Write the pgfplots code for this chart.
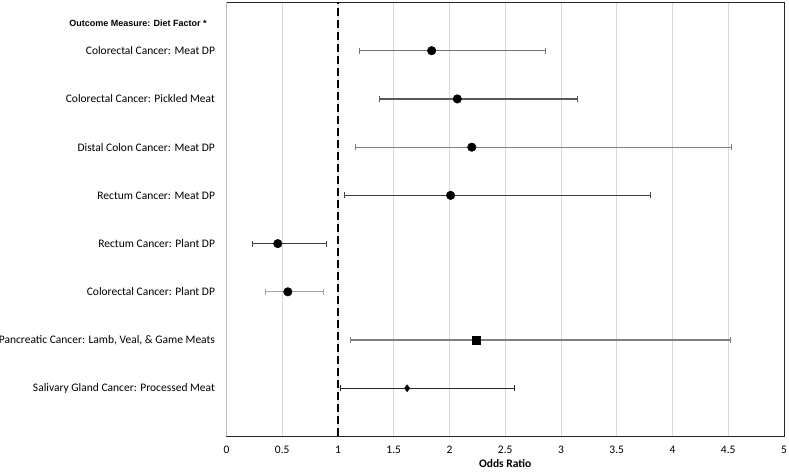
\documentclass[border=0pt]{standalone}
\usepackage{pgfplots}
\pgfplotsset{compat=1.18}
\usepackage{fontspec}
\setmainfont{Carlito}
\newfontfamily\arialf{Liberation Sans}
\usetikzlibrary{calc}
\definecolor{gridc}{RGB}{217,217,217}
\begin{document}
\fontsize{11.5pt}{13pt}\selectfont
\begin{tikzpicture}
\begin{axis}[
  scale only axis,
  width=557.5pt, height=434pt,
  xmin=0, xmax=5, ymin=0, ymax=9,
  xtick={0,0.5,...,5},
  ytick={1,2,3,4,5,6,7,8},
  yticklabels={Salivary Gland Cancer: Processed Meat, {Pancreatic Cancer: Lamb, Veal, \& Game Meats}, Colorectal Cancer: Plant DP, Rectum Cancer: Plant DP, Rectum Cancer: Meat DP, Distal Colon Cancer: Meat DP, Colorectal Cancer: Pickled Meat, Colorectal Cancer: Meat DP},
  major tick length=0pt,
  xmajorgrids, grid style={gridc, line width=0.8pt},
  axis line style={black!85, line width=1pt},
  /pgf/number format/assume math mode=true,
  tick label style={font=\fontsize{11.5pt}{13pt}\selectfont},
  yticklabel style={xshift=-7.5pt},
  xticklabel style={yshift=-6pt},
  xlabel={\textbf{Odds Ratio}},
  xlabel style={font=\fontsize{11.5pt}{13pt}\selectfont, yshift=2.5pt},
  clip=false,
  error bars/x dir=both, error bars/x explicit,
  error bars/error mark options={rotate=90, mark size=3pt, line width=0.9pt},
]
\draw[gridc!70!gray, line width=1.5pt] (rel axis cs:0,0) -- (rel axis cs:0,1);
\draw[black, line width=1.5pt, dash pattern=on 8pt off 4pt] (axis cs:1,0) -- (axis cs:1,9);

\addplot[only marks, mark=*, mark size=4.3pt, black, error bars/error bar style={color=black!55, line width=1.2pt}]
  coordinates {(1.84,8) += (1.02,0) -= (0.65,0)};
\addplot[only marks, mark=*, mark size=4.3pt, black, error bars/error bar style={color=black!65, line width=1.2pt}]
  coordinates {(2.07,7) += (1.08,0) -= (0.70,0)};
\addplot[only marks, mark=*, mark size=4.3pt, black, error bars/error bar style={color=black!50, line width=1.2pt}]
  coordinates {(2.20,6) += (2.33,0) -= (1.04,0)};
\addplot[only marks, mark=*, mark size=4.3pt, black, error bars/error bar style={color=black!75, line width=1.2pt}]
  coordinates {(2.01,5) += (1.79,0) -= (0.95,0)};
\addplot[only marks, mark=*, mark size=4.3pt, black, error bars/error bar style={color=black!75, line width=1.2pt}]
  coordinates {(0.46,4) += (0.44,0) -= (0.23,0)};
\addplot[only marks, mark=*, mark size=4.3pt, black, error bars/error bar style={color=black!35, line width=1.2pt}]
  coordinates {(0.55,3) += (0.32,0) -= (0.20,0)};
\addplot[only marks, mark=square*, mark size=4pt, black, error bars/error bar style={color=black!50, line width=1.2pt}]
  coordinates {(2.24,2) += (2.28,0) -= (1.13,0)};
\addplot[only marks, mark=diamond*, mark size=3.5pt, black, error bars/error bar style={color=black!85, line width=1.2pt}]
  coordinates {(1.62,1) += (0.96,0) -= (0.60,0)};

\node[anchor=east, font=\arialf\bfseries\fontsize{9pt}{10pt}\selectfont, xshift=-15.8pt] at (axis cs:0,8.57) {Outcome Measure: Diet Factor *};
\end{axis}
\pgfresetboundingbox
\useasboundingbox ($(current axis.south west)+(-226.5pt,-36pt)$) rectangle ($(current axis.north east)+(5pt,2.5pt)$);
\end{tikzpicture}
\end{document}
